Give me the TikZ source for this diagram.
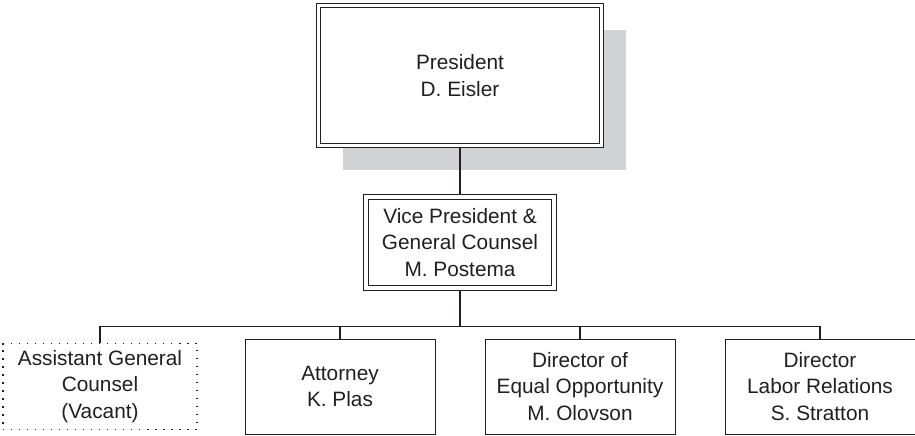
\documentclass[tikz,border=0pt]{standalone}
\usepackage{fontspec}
\setmainfont{Liberation Sans}
\usetikzlibrary{shadows}

\definecolor{ink}{RGB}{35,31,32}
\definecolor{shade}{RGB}{210,211,213}

\tikzset{
  orgbox/.style={draw=ink, text=ink, line width=0.7pt, fill=white, align=center,
    font=\fontsize{14.8}{18.8}\selectfont, inner sep=0pt,
    minimum width=4.75cm, minimum height=2.375cm},
  headbox/.style={orgbox, double=white, double distance=2.4pt},
  vacantbox/.style={orgbox, draw=ink, line width=0.9pt, dash pattern=on 0.9pt off 4.8pt,
    minimum width=4.85cm, minimum height=2.15cm},
  link/.style={draw=ink, line width=0.8pt}
}

\begin{document}
\begin{tikzpicture}[node distance=6cm]
    \useasboundingbox (0,0) rectangle (22.875,-10.875);

    % top: president with shadow
    \node [headbox, minimum width=7.075cm, minimum height=3.5cm,
           drop shadow={shadow xshift=0.6cm, shadow yshift=-0.6cm, fill=shade, opacity=1}]
          (pres) at (11.5,-1.8875) {President\\D. Eisler};

    % middle: vice president
    \node [headbox, minimum width=4.7cm, minimum height=2.275cm,
           below of=pres, node distance=4.175cm]
          (vp) {Vice President \&\\General Counsel\\M. Postema};

    % bottom row
    \node [vacantbox] (asst) at (2.5,-9.6625) {Assistant General\\Counsel\\(Vacant)};
    \node [orgbox, right of=asst] (atty)  {Attorney\\K. Plas};
    \node [orgbox, right of=atty] (eeo)   {Director of\\Equal Opportunity\\M. Olovson};
    \node [orgbox, right of=eeo]  (labor) {Director\\Labor Relations\\S. Stratton};

    % connectors
    \draw[link, shorten <=1.6pt, shorten >=1.6pt] (pres.south) -- (vp.north);
    \draw[link, shorten <=1.6pt] (vp.south) -- ++(0,-0.95) coordinate (bus);
    \draw[link] (bus) -| (asst.north);
    \draw[link] (bus) -| (atty.north);
    \draw[link] (bus) -| (eeo.north);
    \draw[link] (bus) -| (labor.north);
\end{tikzpicture}
\end{document}
